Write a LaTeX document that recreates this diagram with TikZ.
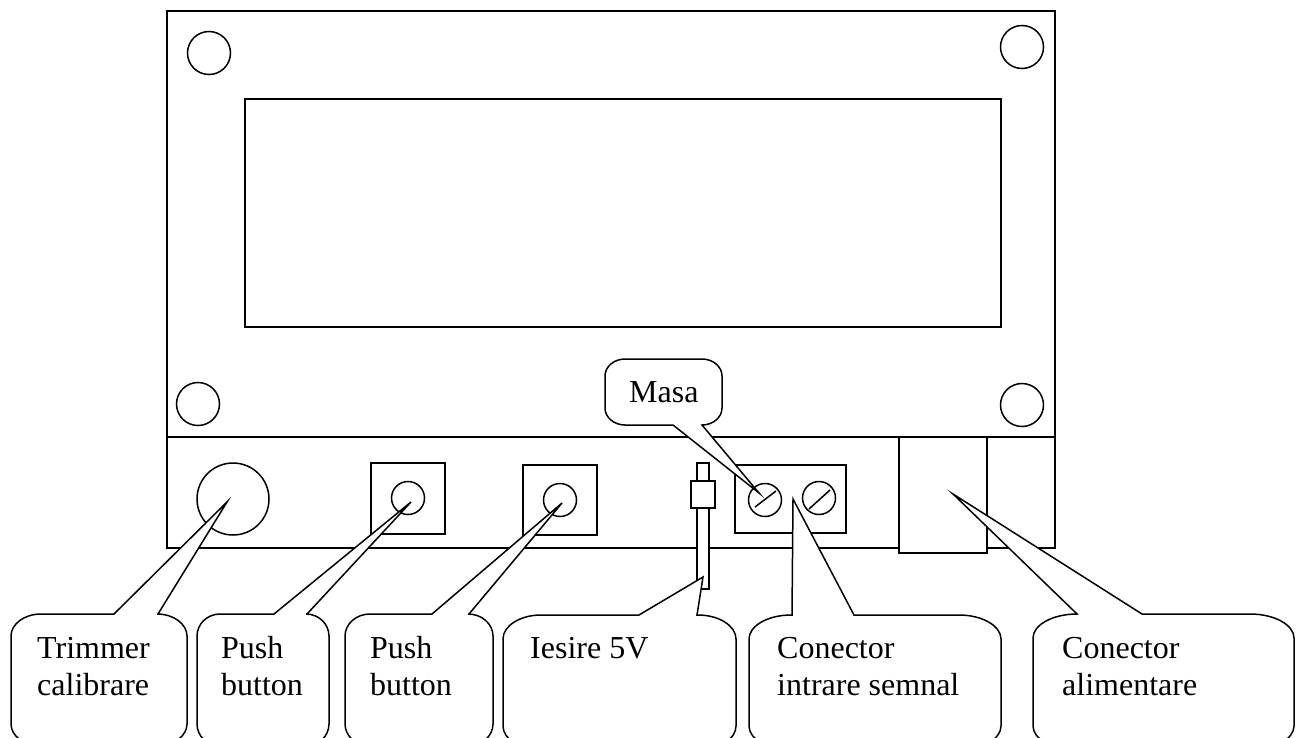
\documentclass[tikz,border=0pt]{standalone}
\usepackage{fontspec}
\setmainfont{Liberation Serif}
\tikzset{
  part/.style={draw=black,line width=1.5pt,fill=white},
  partline/.style={draw=black,line width=1.5pt},
  bubble/.style={draw=black,line width=1.5pt,fill=white,line join=miter},
  label/.style={inner sep=0pt,anchor=base west,align=left,font=\fontsize{32pt}{37pt}\selectfont}
}
% left, right, top, bottom, rx, ry
\newcommand{\cornerpath}[6]{%
  \pgfmathsetmacro{\kx}{0.45*#5}\pgfmathsetmacro{\ky}{0.45*#6}%
  \pgfmathsetmacro{\la}{#1+#5}\pgfmathsetmacro{\lb}{#1+\kx}%
  \pgfmathsetmacro{\ra}{#2-#5}\pgfmathsetmacro{\rb}{#2-\kx}%
  \pgfmathsetmacro{\ta}{#3+#6}\pgfmathsetmacro{\tb}{#3+\ky}%
  \pgfmathsetmacro{\ba}{#4-#6}\pgfmathsetmacro{\bb}{#4-\ky}%
}
% callout with tail on the top edge
\newcommand{\calloutTop}[9]{%
  \cornerpath{#1}{#2}{#3}{#4}{#5}{#6}%
  \path[bubble] (\la,#3) -- (#7,#3) -- #9 -- (#8,#3) -- (\ra,#3)
    .. controls (\rb,#3) and (#2,\tb) .. (#2,\ta) -- (#2,\ba)
    .. controls (#2,\bb) and (\rb,#4) .. (\ra,#4) -- (\la,#4)
    .. controls (\lb,#4) and (#1,\bb) .. (#1,\ba) -- (#1,\ta)
    .. controls (#1,\tb) and (\lb,#3) .. (\la,#3) -- cycle;%
}
% callout with tail on the bottom edge
\newcommand{\calloutBottom}[9]{%
  \cornerpath{#1}{#2}{#3}{#4}{#5}{#6}%
  \path[bubble] (\la,#3) -- (\ra,#3)
    .. controls (\rb,#3) and (#2,\tb) .. (#2,\ta) -- (#2,\ba)
    .. controls (#2,\bb) and (\rb,#4) .. (\ra,#4) -- (#8,#4) -- #9 -- (#7,#4) -- (\la,#4)
    .. controls (\lb,#4) and (#1,\bb) .. (#1,\ba) -- (#1,\ta)
    .. controls (#1,\tb) and (\lb,#3) .. (\la,#3) -- cycle;%
}
\begin{document}
\begin{tikzpicture}[x=1pt,y=-1pt]
\useasboundingbox (0,0) rectangle (1300,737);
\clip (0,0) rectangle (1300,737);
\fill[white] (0,0) rectangle (1300,737);
% enclosure
\path[part] (167,11) rectangle (1055,548);
\path[partline] (167,437) -- (1055,437);
% display
\path[part] (245,99) rectangle (1001,327);
% mounting holes
\path[part] (209,53) circle[radius=21.5];
\path[part] (1022,47) circle[radius=21.5];
\path[part] (198,404) circle[radius=21.5];
\path[part] (1022,405) circle[radius=21.5];
% trimmer
\path[part] (233,499) circle[radius=36];
% push buttons
\path[part] (371,463) rectangle (445,534);
\path[part] (408,498) circle[radius=16.5];
\path[part] (523,465) rectangle (597,535);
\path[part] (560,500) circle[radius=16.5];
% 5V pin
\path[part] (697,463) rectangle (709,589);
\path[part] (691,481) rectangle (715,508);
% signal connector
\path[part] (735,465) rectangle (846,533);
\path[part] (765,500) circle[radius=16.5];
\path[partline] (755,507) -- (776,491);
\path[part] (819,498) circle[radius=16.5];
\path[partline] (809,509) -- (830,490);
% power connector
\path[part] (899,437) rectangle (987,553);
% callouts
\calloutTop{11}{187}{614}{746}{30}{22}{114}{158}{(227,502)}
\calloutTop{197}{329}{614}{746}{23}{22}{274}{307}{(411,502)}
\calloutTop{345}{493}{614}{746}{25}{22}{432}{469}{(562,503)}
\calloutTop{503}{736}{615}{750}{38}{24}{639}{697}{(703,577)}
\calloutTop{749}{1001}{615}{750}{42}{24}{792}{854}{(793,499)}
\calloutTop{1033}{1294}{614}{750}{44}{24}{1077}{1142}{(953,494)}
\calloutBottom{605}{722}{359}{425}{20}{17}{673}{702}{(759,493)}
% labels
\node[label] (trimmer) at (37,695) {Trimmer\\calibrare};
\node[label] (pushA) at (221,695) {Push\\button};
\node[label] (pushB) at (370,695) {Push\\button};
\node[label] (iesire) at (530,658) {Iesire 5V};
\node[label] (semnal) at (777,695) {Conector\\intrare semnal};
\node[label] (alim) at (1062,695) {Conector\\alimentare};
\node[label] (masa) at (629,402) {Masa};
\end{tikzpicture}
\end{document}
